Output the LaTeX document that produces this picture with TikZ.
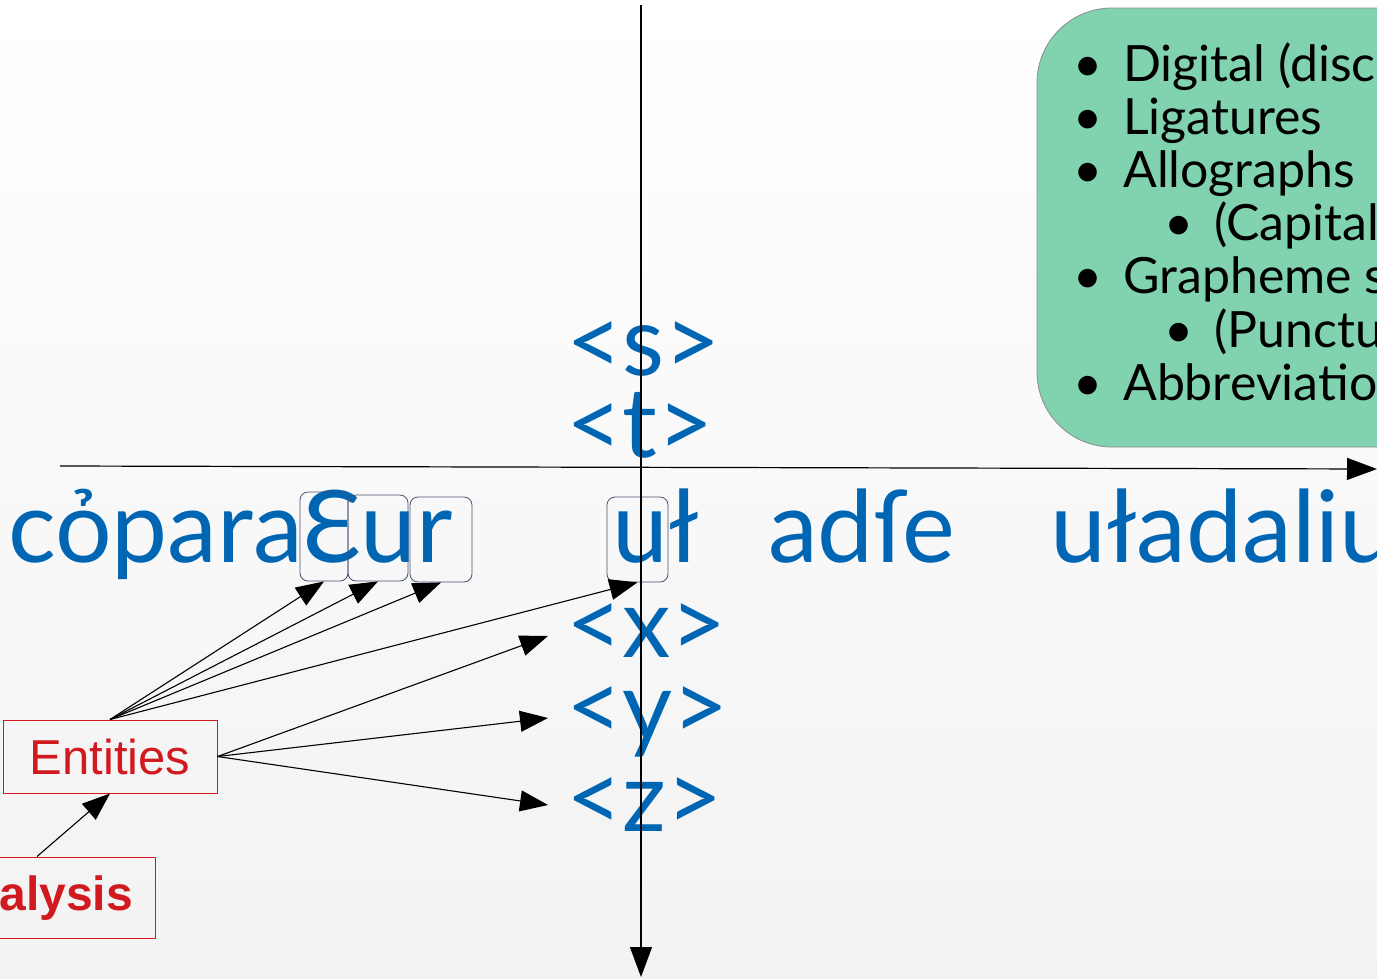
\documentclass[tikz,border=0pt]{standalone}
\usepackage{fontspec}
\setmainfont{Lato}
\newfontfamily\arialf{Liberation Sans}
\usetikzlibrary{arrows.meta,calc}
\definecolor{txtblue}{RGB}{0,102,179}
\definecolor{boxgreen}{RGB}{129,211,176}
\definecolor{entred}{RGB}{208,26,32}
\definecolor{boxline}{RGB}{70,82,110}
\tikzset{
  bluetxt/.style={inner sep=0pt, anchor=base west, text=txtblue, font=\fontsize{100}{120}\selectfont},
  tagtxt/.style={inner sep=0pt, anchor=base west, text=txtblue, font=\fontsize{97}{116}\selectfont},
  listtxt/.style={inner sep=0pt, anchor=base west, text=black, font=\fontsize{50}{60}\selectfont},
  bul/.style={inner sep=0pt, anchor=base, text=black, font=\fontsize{50}{60}\selectfont},
  letterbox/.style={draw=boxline, line width=0.8pt, rounded corners=8pt, inner sep=0pt},
  redbox/.style={draw=entred, line width=1pt, inner sep=0pt},
  conn/.style={line width=1.1pt, -{Triangle[length=28pt,width=21pt]}},
  axis/.style={line width=1.2pt, -{Triangle[length=30pt,width=22pt]}}
}
\begin{document}
\begin{tikzpicture}[x=1pt,y=-1pt]
\useasboundingbox (0,0) rectangle (1377,978);
\clip (0,0) rectangle (1377,978);
% background
\shade[top color=white, middle color=white, bottom color=black!5] (0,0) rectangle (1377,978);
% green box
\draw[fill=boxgreen, draw=black!45, line width=0.8pt, rounded corners=75pt] (1037,8) rectangle (1460,447);
% list
\node[bul] (b1) at (1088,81) {•};
\node[listtxt] (l1) at (1123,81) {Digital (discr};
\node[bul] (b2) at (1088,134.2) {•};
\node[listtxt] (l2) at (1123,134.2) {Ligatures};
\node[bul] (b3) at (1088,187.4) {•};
\node[listtxt] (l3) at (1123,187.4) {Allographs};
\node[bul] (b4) at (1179,240.6) {•};
\node[listtxt] (l4) at (1214,240.6) {(Capital};
\node[bul] (b5) at (1088,293.8) {•};
\node[listtxt] (l5) at (1123,293.8) {Grapheme s};
\node[bul] (b6) at (1179,347) {•};
\node[listtxt] (l6) at (1214,347) {(Punctu};
\node[bul] (b7) at (1088,400.2) {•};
\node[listtxt] (l7) at (1123,400.2) {Abbreviatio};
% blue texts
\node[bluetxt] (w1) at (8,562) {cỏparaƐur};
\node[bluetxt] (w2) at (612,562) {uł};
\node[bluetxt] (w3) at (768,562) {adſe};
\node[bluetxt] (w4) at (1050,562) {uładaliu};
\node[tagtxt] (sn) at (566,375) {<s>};
\node[tagtxt] (tn) at (566,457) {<t>};
\node[tagtxt] (xn) at (566,657) {<x>};
\node[tagtxt] (yn) at (566,740) {<y>};
\node[tagtxt] (zn) at (566,831) {<z>};
\coordinate (xt) at (548,636);
\coordinate (yt) at (548,718);
\coordinate (zt) at (548,805);
% letter boxes
\node[letterbox, minimum width=48pt, minimum height=89pt] (bE) at (324,536.5) {};
\node[letterbox, minimum width=60pt, minimum height=86pt] (bu) at (378,538) {};
\node[letterbox, minimum width=62pt, minimum height=85pt] (br) at (441,539.5) {};
\node[letterbox, minimum width=61pt, minimum height=85pt] (bu2) at (637.5,539.5) {};
% red boxes
\node[redbox, minimum width=214pt, minimum height=73pt, text=entred, font=\arialf\fontsize{49}{59}\selectfont] (ent) at (110,756.5) {Entities\hspace{14pt}};
\node[redbox, minimum width=236pt, minimum height=81pt] (ana) at (37,897.5) {};
\node[inner sep=0pt, anchor=base east, text=entred, font=\arialf\bfseries\fontsize{48}{58}\selectfont] (anat) at (133,910) {alysis};
% axes
\coordinate (vt) at (641,5);
\coordinate (vb) at (641,977);
\coordinate (hl) at (60,466);
\coordinate (hr) at (1377,469);
\draw[axis] (vt) -- (vb);
\draw[axis] (hl) -- (hr);
% connectors
\draw[conn] (ent.north) -- (bE.south);
\draw[conn] (ent.north) -- (bu.south);
\draw[conn] (ent.north) -- (br.south);
\draw[conn] (ent.north) -- (bu2.south);
\draw[conn] (ent.east) -- (xt);
\draw[conn] (ent.east) -- (yt);
\draw[conn] (ent.east) -- (zt);
\draw[conn] (ana.north) -- (ent.south);
\end{tikzpicture}
\end{document}
